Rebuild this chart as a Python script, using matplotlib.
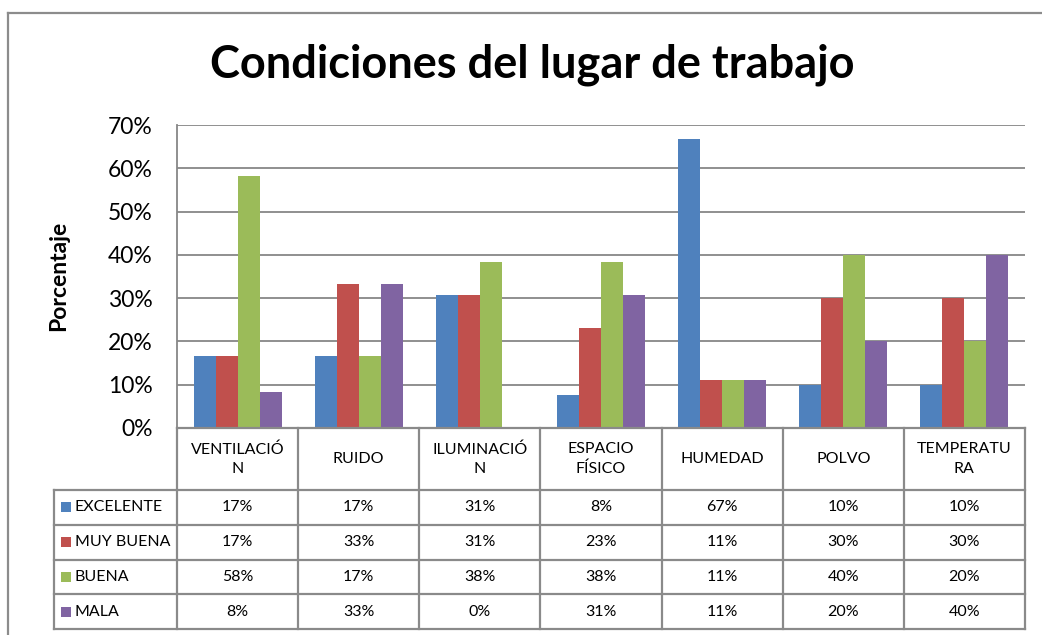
import matplotlib
matplotlib.use('Agg')
import matplotlib.pyplot as plt
from matplotlib.lines import Line2D
from matplotlib.patches import Rectangle
import matplotlib.transforms as mtrans
from matplotlib.ticker import FuncFormatter
import numpy as np

# ---------------- data ----------------
categories = ['VENTILACIÓN', 'RUIDO', 'ILUMINACIÓN', 'ESPACIO FÍSICO',
              'HUMEDAD', 'POLVO', 'TEMPERATURA']
category_labels = ['VENTILACIÓ\nN', 'RUIDO', 'ILUMINACIÓ\nN', 'ESPACIO\nFÍSICO',
                   'HUMEDAD', 'POLVO', 'TEMPERATU\nRA']
series_names = ['EXCELENTE', 'MUY BUENA', 'BUENA', 'MALA']
excelente = [0.1667, 0.1667, 0.3077, 0.0769, 0.6667, 0.10, 0.10]
muy_buena = [0.1667, 0.3333, 0.3077, 0.2308, 0.1111, 0.30, 0.30]
buena     = [0.5833, 0.1667, 0.3846, 0.3846, 0.1111, 0.40, 0.20]
mala      = [0.0833, 0.3333, 0.0000, 0.3077, 0.1111, 0.20, 0.40]
y_ticks = [0.0, 0.1, 0.2, 0.3, 0.4, 0.5, 0.6, 0.7]

title = 'Condiciones del lugar de trabajo'
y_label = 'Porcentaje'

# ---------------- style ----------------
colors = ['#4F81BD', '#C0504D', '#9BBB59', '#8064A2']
FONT = 'Lato'
GRID = '#878787'
plt.rcParams['font.family'] = [FONT, 'DejaVu Sans']

W, H = 1042, 635
fig = plt.figure(figsize=(W / 100, H / 100), dpi=100)

def fx(x):
    return x / W

def fy(y):
    return 1 - y / H

# plot area in pixels
L, R, T, B = 177, 1025, 125, 428
ax = fig.add_axes([fx(L), fy(B), (R - L) / W, (B - T) / H])

series = [excelente, muy_buena, buena, mala]
n = len(series)
bw = 1.0 / (n + 1.5)
x = np.arange(len(categories))
for k, vals in enumerate(series):
    ax.bar(x + (k - (n - 1) / 2) * bw, vals, width=bw, color=colors[k],
           zorder=3, linewidth=0)

ax.set_xlim(-0.5, len(categories) - 0.5)
ax.set_ylim(0, 0.7)
ax.set_yticks(y_ticks)
ax.yaxis.set_major_formatter(FuncFormatter(lambda v, p: f'{v*100:.0f}%'))
ax.set_xticks([])
ax.tick_params(axis='y', length=0, pad=17.5, labelsize=16.5)
for lab in ax.get_yticklabels():
    lab.set_fontfamily(FONT)
ax.grid(axis='y', color=GRID, linewidth=1.3, zorder=0)
for s in ['top', 'right', 'bottom']:
    ax.spines[s].set_visible(False)
ax.spines['left'].set_color(GRID)
ax.spines['left'].set_linewidth(1.3)

# title and axis label
fig.text(fx(532), fy(65), title, ha='center', va='center',
         fontsize=32.5, fontweight='bold', fontfamily=FONT)
fig.text(fx(59), fy(276), y_label, ha='center', va='center', rotation=90,
         fontsize=16.5, fontweight='bold', fontfamily=FONT)

# ---------------- data table ----------------
blend = mtrans.blended_transform_factory(ax.transData, fig.transFigure)
row_edges = [428, 490, 524.5, 559.5, 594, 629]   # pixel rows
legend_left = 54
TC = '#8a8a8a'
TLW = 1.6
FS = 11.5
bounds = np.arange(len(categories) + 1) - 0.5

# vertical lines at category boundaries (header + body rows)
for b in bounds:
    ax.add_line(Line2D([b, b], [fy(row_edges[0]), fy(row_edges[-1])],
                       transform=blend, color=TC, lw=TLW, clip_on=False, zorder=5))
# header top line
ax.add_line(Line2D([bounds[0], bounds[-1]], [fy(row_edges[0])] * 2,
                   transform=blend, color=TC, lw=TLW, clip_on=False, zorder=5))
# body horizontal lines incl. legend column
for yy in row_edges[1:]:
    fig.add_artist(Line2D([fx(legend_left), fx(R)], [fy(yy)] * 2,
                          color=TC, lw=TLW, zorder=5))
# legend column left edge
fig.add_artist(Line2D([fx(legend_left)] * 2, [fy(row_edges[1]), fy(row_edges[-1])],
                      color=TC, lw=TLW, zorder=5))

# header texts
hy = fy((row_edges[0] + row_edges[1]) / 2)
for i, lab in enumerate(category_labels):
    ax.text(i, hy, lab, transform=blend, ha='center', va='center',
            fontsize=FS, linespacing=1.5, fontfamily=FONT, clip_on=False)

# body
for r, (name, vals) in enumerate(zip(series_names, series)):
    yc = (row_edges[r + 1] + row_edges[r + 2]) / 2
    fig.add_artist(Rectangle((fx(61), fy(yc + 5)), 10 / W, 10 / H,
                             facecolor=colors[r], edgecolor='none'))
    fig.text(fx(75), fy(yc), name, ha='left', va='center',
             fontsize=FS, fontfamily=FONT)
    for i, v in enumerate(vals):
        ax.text(i, fy(yc), f'{v*100:.0f}%', transform=blend, ha='center',
                va='center', fontsize=FS, fontfamily=FONT, clip_on=False)

# outer chart frame
fig.add_artist(Line2D([fx(8), fx(8)], [0, fy(13)], color='#8c8c8c', lw=1.6))
fig.add_artist(Line2D([fx(8), 1], [fy(13), fy(13)], color='#8c8c8c', lw=1.6))

fig.savefig('out.png', dpi=100)
